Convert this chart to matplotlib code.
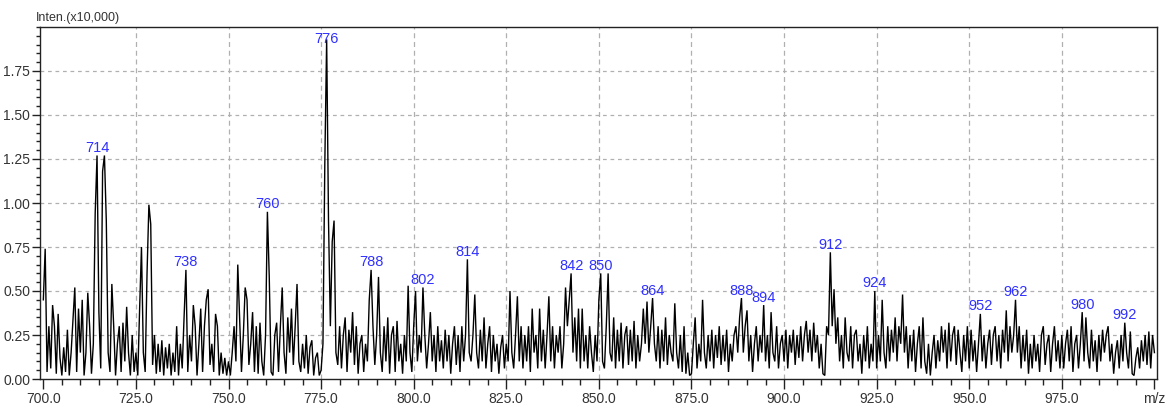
import numpy as np
import matplotlib
matplotlib.use("Agg")
import matplotlib.pyplot as plt
from matplotlib.ticker import MultipleLocator, FixedLocator

# m/z grid: 700.0 .. 1000.0 in 0.5 steps (intensity in units of x10,000)
seg_700 = [0.45, 0.74, 0.04, 0.30, 0.06, 0.42, 0.30, 0.03, 0.37, 0.12,
           0.02, 0.18, 0.04, 0.28, 0.02, 0.15, 0.33, 0.52, 0.04, 0.40,
           0.15, 0.45, 0.02, 0.15, 0.49, 0.30, 0.03, 0.20, 0.94, 1.27,
           0.38, 0.06, 1.18, 1.27, 0.90, 0.15, 0.04, 0.54, 0.30, 0.02,
           0.20, 0.30, 0.04, 0.32, 0.10, 0.41, 0.15, 0.02, 0.25, 0.04]
seg_725 = [0.15, 0.02, 0.40, 0.75, 0.15, 0.04, 0.60, 0.99, 0.88, 0.08,
           0.25, 0.03, 0.20, 0.04, 0.22, 0.02, 0.18, 0.06, 0.20, 0.02,
           0.15, 0.04, 0.30, 0.02, 0.20, 0.06, 0.35, 0.62, 0.04, 0.25,
           0.10, 0.42, 0.30, 0.02, 0.20, 0.40, 0.04, 0.30, 0.45, 0.51,
           0.08, 0.20, 0.04, 0.37, 0.30, 0.02, 0.15, 0.03, 0.12, 0.02]
seg_750 = [0.10, 0.02, 0.15, 0.30, 0.10, 0.65, 0.35, 0.04, 0.25, 0.52,
           0.45, 0.08, 0.20, 0.38, 0.04, 0.30, 0.03, 0.32, 0.10, 0.02,
           0.25, 0.95, 0.58, 0.04, 0.02, 0.25, 0.32, 0.04, 0.30, 0.52,
           0.15, 0.03, 0.35, 0.15, 0.40, 0.08, 0.30, 0.54, 0.10, 0.04,
           0.20, 0.06, 0.25, 0.03, 0.18, 0.22, 0.02, 0.12, 0.15, 0.02]
seg_775 = [0.05, 0.20, 1.22, 1.93, 0.90, 0.30, 0.78, 0.90, 0.15, 0.08,
           0.30, 0.06, 0.25, 0.35, 0.04, 0.28, 0.15, 0.38, 0.08, 0.30,
           0.03, 0.20, 0.25, 0.04, 0.20, 0.10, 0.45, 0.62, 0.30, 0.08,
           0.25, 0.58, 0.15, 0.04, 0.30, 0.10, 0.35, 0.03, 0.25, 0.30,
           0.04, 0.33, 0.10, 0.20, 0.03, 0.25, 0.10, 0.53, 0.15, 0.04]
seg_800 = [0.30, 0.50, 0.10, 0.25, 0.15, 0.52, 0.25, 0.06, 0.20, 0.38,
           0.10, 0.25, 0.04, 0.30, 0.10, 0.22, 0.06, 0.28, 0.10, 0.25,
           0.03, 0.20, 0.30, 0.08, 0.25, 0.04, 0.30, 0.10, 0.25, 0.68,
           0.15, 0.10, 0.25, 0.48, 0.15, 0.06, 0.28, 0.10, 0.35, 0.06,
           0.20, 0.30, 0.04, 0.25, 0.10, 0.20, 0.03, 0.18, 0.25, 0.06]
seg_825 = [0.20, 0.10, 0.50, 0.15, 0.06, 0.25, 0.47, 0.10, 0.30, 0.06,
           0.25, 0.10, 0.30, 0.04, 0.40, 0.15, 0.25, 0.06, 0.40, 0.10,
           0.28, 0.06, 0.25, 0.47, 0.10, 0.30, 0.06, 0.25, 0.15, 0.30,
           0.06, 0.20, 0.52, 0.30, 0.45, 0.60, 0.15, 0.35, 0.10, 0.40,
           0.06, 0.40, 0.10, 0.25, 0.06, 0.30, 0.15, 0.04, 0.25, 0.10]
seg_850 = [0.45, 0.60, 0.10, 0.06, 0.30, 0.60, 0.15, 0.10, 0.35, 0.06,
           0.28, 0.10, 0.32, 0.06, 0.25, 0.30, 0.08, 0.28, 0.10, 0.33,
           0.06, 0.25, 0.10, 0.20, 0.40, 0.20, 0.44, 0.15, 0.30, 0.46,
           0.20, 0.10, 0.30, 0.06, 0.28, 0.10, 0.35, 0.08, 0.25, 0.15,
           0.10, 0.43, 0.15, 0.06, 0.25, 0.04, 0.30, 0.03, 0.15, 0.02]
seg_875 = [0.03, 0.20, 0.35, 0.06, 0.20, 0.10, 0.45, 0.15, 0.06, 0.25,
           0.10, 0.28, 0.06, 0.25, 0.12, 0.30, 0.08, 0.25, 0.10, 0.28,
           0.04, 0.20, 0.10, 0.25, 0.30, 0.15, 0.35, 0.46, 0.15, 0.30,
           0.39, 0.10, 0.25, 0.04, 0.20, 0.30, 0.10, 0.25, 0.15, 0.42,
           0.10, 0.25, 0.06, 0.38, 0.15, 0.10, 0.30, 0.06, 0.20, 0.25]
seg_900 = [0.10, 0.28, 0.06, 0.25, 0.15, 0.28, 0.08, 0.25, 0.12, 0.30,
           0.10, 0.25, 0.33, 0.15, 0.28, 0.10, 0.32, 0.15, 0.25, 0.06,
           0.20, 0.03, 0.02, 0.30, 0.25, 0.72, 0.30, 0.51, 0.20, 0.35,
           0.10, 0.25, 0.06, 0.35, 0.15, 0.10, 0.30, 0.06, 0.25, 0.28,
           0.10, 0.20, 0.03, 0.25, 0.10, 0.30, 0.06, 0.20, 0.10, 0.50]
seg_925 = [0.06, 0.25, 0.10, 0.45, 0.15, 0.06, 0.30, 0.10, 0.28, 0.15,
           0.35, 0.10, 0.30, 0.20, 0.48, 0.15, 0.30, 0.06, 0.25, 0.10,
           0.28, 0.04, 0.20, 0.30, 0.06, 0.35, 0.10, 0.03, 0.20, 0.02,
           0.15, 0.25, 0.06, 0.22, 0.10, 0.30, 0.15, 0.28, 0.06, 0.32,
           0.10, 0.25, 0.30, 0.08, 0.28, 0.15, 0.04, 0.25, 0.10, 0.30]
seg_950 = [0.06, 0.28, 0.10, 0.22, 0.04, 0.20, 0.37, 0.10, 0.25, 0.06,
           0.20, 0.28, 0.08, 0.25, 0.30, 0.10, 0.25, 0.06, 0.28, 0.15,
           0.39, 0.10, 0.30, 0.15, 0.25, 0.45, 0.15, 0.30, 0.06, 0.25,
           0.10, 0.28, 0.03, 0.20, 0.06, 0.25, 0.10, 0.20, 0.04, 0.25,
           0.30, 0.08, 0.20, 0.25, 0.04, 0.20, 0.30, 0.10, 0.22, 0.06]
seg_975 = [0.25, 0.06, 0.20, 0.28, 0.10, 0.30, 0.04, 0.20, 0.25, 0.06,
           0.20, 0.38, 0.10, 0.35, 0.15, 0.06, 0.28, 0.10, 0.22, 0.04,
           0.25, 0.10, 0.28, 0.15, 0.25, 0.30, 0.10, 0.20, 0.03, 0.15,
           0.22, 0.06, 0.25, 0.10, 0.32, 0.15, 0.06, 0.27, 0.03, 0.02,
           0.12, 0.18, 0.06, 0.22, 0.10, 0.25, 0.08, 0.27, 0.06, 0.25,
           0.15]

peak_labels = [714, 738, 760, 776, 788, 802, 814, 842, 850, 864,
               888, 894, 912, 924, 952, 962, 980, 992]

x_ticks = [700.0, 725.0, 750.0, 775.0, 800.0, 825.0, 850.0, 875.0,
           900.0, 925.0, 950.0, 975.0, 1000.0]
x_tick_labels = ["700.0", "725.0", "750.0", "775.0", "800.0", "825.0",
                 "850.0", "875.0", "900.0", "925.0", "950.0", "975.0", "m/z"]
y_ticks = [0.0, 0.25, 0.5, 0.75, 1.0, 1.25, 1.5, 1.75]

intensity = np.array(seg_700 + seg_725 + seg_750 + seg_775 + seg_800 + seg_825 +
                     seg_850 + seg_875 + seg_900 + seg_925 + seg_950 + seg_975)
mz = 700.0 + 0.5 * np.arange(len(intensity))

plt.rcParams['font.family'] = ['Liberation Sans', 'DejaVu Sans']

fig = plt.figure(figsize=(11.65, 4.15), dpi=100)
ax = fig.add_axes([40 / 1165, 1 - 379 / 415, (1157 - 40) / 1165, (379 - 27) / 415])

ax.plot(mz, intensity, color='black', lw=1.0, solid_joinstyle='miter')

ax.set_xlim(699.1, 1000.7)
ax.set_ylim(0, 2.0)

ax.xaxis.set_major_locator(FixedLocator(x_ticks))
ax.set_xticklabels(x_tick_labels)
ax.xaxis.set_minor_locator(MultipleLocator(5))
ax.yaxis.set_major_locator(FixedLocator(y_ticks))
ax.set_yticklabels([f"{v:.2f}" for v in y_ticks])
ax.yaxis.set_minor_locator(MultipleLocator(0.05))

ax.tick_params(axis='both', which='major', direction='out', labelsize=10,
               colors='#222222', labelcolor='#333333', width=1)
ax.tick_params(axis='x', which='major', length=7, pad=2)
ax.tick_params(axis='y', which='major', length=6, pad=1)
ax.tick_params(axis='x', which='minor', direction='out', length=4, width=1, colors='#222222')
ax.tick_params(axis='y', which='minor', direction='out', length=3, width=1, colors='#222222')

for s in ax.spines.values():
    s.set_color('#222222')
    s.set_linewidth(1)

# grid
for xv in x_ticks[1:-1]:
    ax.axvline(xv, color='#b0b0b0', lw=0.9, ls=(0, (4, 3)), zorder=0)
for yv in y_ticks[1:]:
    ax.axhline(yv, color='#b0b0b0', lw=0.9, ls=(0, (3, 3)), zorder=0)

# peak labels
for m in peak_labels:
    sel = (mz >= m - 0.01) & (mz <= m + 1.01)
    idx = np.where(sel)[0][np.argmax(intensity[sel])]
    ytxt = min(intensity[idx] + 0.02, 1.91)
    ax.text(mz[idx], ytxt, str(m), color='#3030ff', fontsize=10.5,
            ha='center', va='baseline', zorder=5)

fig.text(36 / 1165, 1 - 18 / 415, "Inten.(x10,000)", fontsize=9, color='#333333',
         ha='left', va='center')

fig.savefig("out.png", dpi=100)
